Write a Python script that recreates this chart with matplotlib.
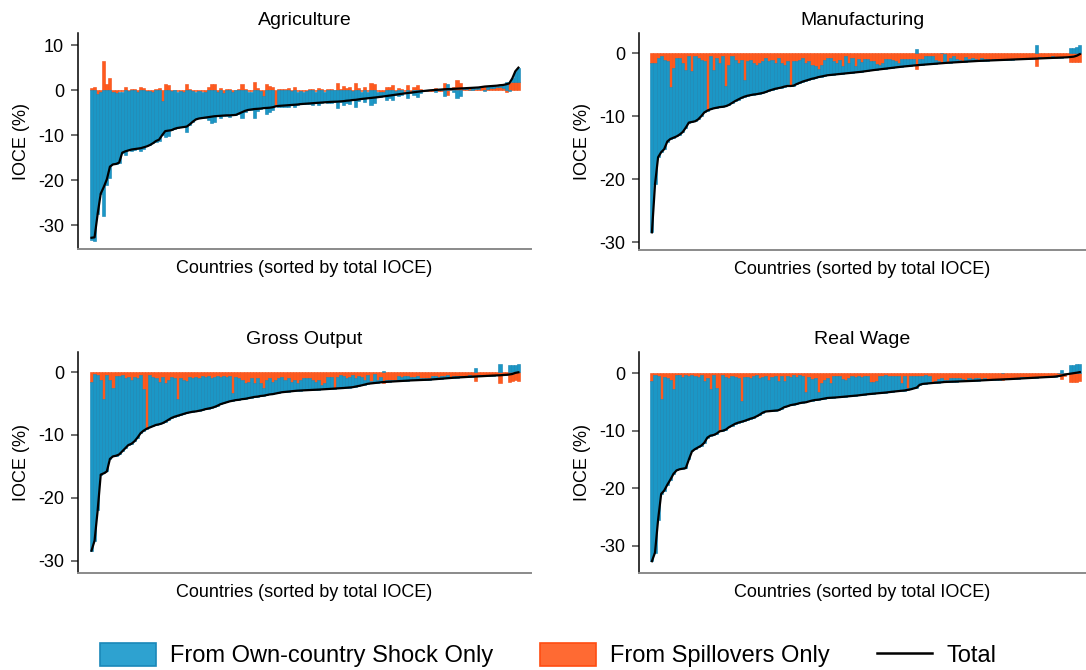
import numpy as np
import matplotlib
matplotlib.use("Agg")
import matplotlib.pyplot as plt
from matplotlib.patches import Patch
from matplotlib.lines import Line2D

plt.rcParams["font.family"] = ["Liberation Sans", "DejaVu Sans"]
plt.rcParams["axes.unicode_minus"] = False

# IOCE by country (sorted by total), in percent
agri_total = [
    -32.8, -32.7, -27.5, -23.0, -21.5, -19.8, -17.0, -16.5, -16.4, -16.1,
    -13.9, -13.6, -13.4, -13.2, -13.1, -13.0, -12.9, -12.7, -12.5, -12.2,
    -11.8, -11.3, -11.0, -10.0, -9.1, -9.0, -8.9, -8.6, -8.4, -8.3,
    -8.2, -8.1, -7.6, -7.0, -6.5, -6.3, -6.2, -6.1, -6.0, -5.9,
    -5.8, -5.75, -5.7, -5.65, -5.6, -5.6, -5.55, -5.5, -5.2, -4.9,
    -4.6, -4.4, -4.3, -4.2, -4.15, -4.1, -4.0, -3.95, -3.9, -3.8,
    -3.6, -3.5, -3.45, -3.4, -3.35, -3.3, -3.25, -3.2, -3.1, -3.05,
    -3.0, -2.95, -2.9, -2.85, -2.8, -2.75, -2.7, -2.65, -2.6, -2.58,
    -2.55, -2.5, -2.45, -2.35, -2.3, -2.2, -2.15, -2.05, -1.95, -1.88,
    -1.8, -1.72, -1.65, -1.58, -1.5, -1.4, -1.3, -1.2, -1.1, -1.0,
    -0.9, -0.8, -0.72, -0.63, -0.55, -0.45, -0.37, -0.28, -0.2, -0.12,
    -0.05, 0.0, 0.05, 0.1, 0.15, 0.2, 0.22, 0.26, 0.3, 0.35,
    0.4, 0.43, 0.46, 0.5, 0.52, 0.55, 0.6, 0.7, 0.8, 0.85,
    0.9, 0.95, 1.0, 1.1, 1.15, 1.3, 1.5, 2.6, 4.2, 5.0,
]
agri_spill = [
    0.5, 0.8, -0.8, -0.5, 6.5, 1.3, 2.6, -0.5, -0.6, -0.3,
    -0.3, 0.8, -0.2, 0.3, 0.2, -0.4, 0.6, 0.4, -0.2, -0.2,
    -0.4, 0.2, 0.4, -2.5, 1.3, 1.2, -0.2, 0.1, -0.3, -0.2,
    -0.5, 1.3, 0.2, -0.1, -0.3, -0.2, -0.3, -0.4, 0.7, 1.3,
    1.3, -0.4, 0.4, -0.6, 0.2, 0.3, -0.4, 0.1, 0.2, 1.3,
    0.3, -0.3, -0.3, 1.9, 0.4, -0.1, -1.4, 1.3, 0.9, 0.6,
    -3.3, 0.2, 0.2, 0.3, 0.5, -0.1, 0.6, -0.3, -0.2, -0.3,
    -0.1, 0.2, 0.3, -0.3, 0.4, 0.2, -0.3, 0.3, 0.2, 0.1,
    1.5, 0.2, 0.9, 0.5, 0.7, -0.2, 1.5, 0.4, -0.3, 0.8,
    -0.3, 1.5, 1.3, -0.3, -0.5, -0.4, 0.8, 0.6, 1.2, -0.2,
    0.4, 0.2, -0.3, 1.2, -0.3, 0.6, 1.2, 0.3, -0.2, -0.1,
    -0.1, -0.1, 0.4, -0.1, -0.1, 1.6, -1.1, 0.3, 0.8, 2.2,
    1.6, 0.3, 0.2, 0.5, 0.1, 0.2, 0.3, 0.6, 0.9, 0.3,
    0.4, 0.4, 0.7, 0.6, 0.5, -0.5, 1.6, 1.8, 1.8, 1.8,
]

manu_total = [
    -28.4, -20.8, -16.5, -15.7, -15.2, -14.0, -13.6, -13.4, -13.2, -12.9,
    -12.5, -11.8, -11.0, -10.9, -10.8, -10.5, -10.0, -9.4, -9.1, -8.9,
    -8.75, -8.65, -8.55, -8.5, -8.4, -8.2, -7.9, -7.6, -7.35, -7.1,
    -6.9, -6.75, -6.65, -6.55, -6.5, -6.4, -6.3, -6.15, -5.95, -5.8,
    -5.65, -5.55, -5.45, -5.3, -5.2, -5.2, -5.15, -4.9, -4.7, -4.5,
    -4.35, -4.2, -4.05, -3.95, -3.8, -3.7, -3.6, -3.5, -3.45, -3.4,
    -3.35, -3.3, -3.25, -3.2, -3.15, -3.1, -3.05, -3.0, -2.95, -2.88,
    -2.8, -2.74, -2.68, -2.62, -2.56, -2.5, -2.44, -2.38, -2.32, -2.26,
    -2.2, -2.15, -2.1, -2.05, -2.0, -1.95, -1.91, -1.87, -1.83, -1.79,
    -1.75, -1.71, -1.67, -1.63, -1.59, -1.55, -1.52, -1.49, -1.46, -1.43,
    -1.4, -1.37, -1.34, -1.31, -1.28, -1.25, -1.23, -1.21, -1.19, -1.17,
    -1.15, -1.13, -1.11, -1.09, -1.07, -1.05, -1.03, -1.01, -0.99, -0.97,
    -0.95, -0.93, -0.91, -0.89, -0.87, -0.85, -0.83, -0.81, -0.79, -0.77,
    -0.75, -0.73, -0.71, -0.69, -0.67, -0.65, -0.6, -0.55, -0.4, -0.15,
]
manu_spill = [
    -1.6, -1.6, -0.8, -0.5, -1.1, -1.2, -5.3, -2.4, -0.8, -0.8,
    -1.6, -2.6, -0.4, -2.75, -0.5, -0.8, -1.1, -1.3, -9.0, -0.5,
    -2.6, -0.8, -1.6, -0.5, -5.2, -1.85, -0.4, -1.1, -1.6, -1.1,
    -4.2, -1.3, -1.1, -1.6, -1.85, -1.6, -1.3, -0.8, -1.3, -1.1,
    -1.6, -0.8, -1.6, -1.85, -1.3, -5.0, -1.2, -1.3, -1.1, -0.8,
    -1.6, -1.3, -1.85, -2.1, -2.5, -1.85, -1.1, -0.8, -0.8, -1.3,
    -1.6, -1.1, -2.1, -0.4, -1.6, -0.8, -2.1, -1.0, -1.4, -0.9,
    -0.9, -1.2, -1.3, -1.7, -1.8, -1.6, -0.9, -0.95, -1.1, -1.3,
    -1.6, -0.9, -0.85, -0.95, -0.9, -1.0, -2.5, -0.95, -0.9, -0.5,
    -0.4, -0.5, -1.1, -1.2, -1.6, -0.2, -1.4, -0.8, -0.5, -1.0,
    -1.1, -1.3, -0.6, -1.0, -0.8, -1.0, -1.1, -0.8, -0.9, -1.0,
    -1.1, -1.0, -1.0, -1.05, -1.0, -1.0, -1.0, -0.95, -0.9, -0.95,
    -0.9, -0.9, -0.85, -0.85, -0.8, -2.1, -0.6, -0.75, -0.7, -0.75,
    -0.5, -0.7, -0.6, -0.65, -0.6, -0.6, -1.4, -1.4, -1.4, -1.4,
]

gross_total = [
    -28.4, -26.8, -22.0, -16.3, -16.1, -15.8, -13.8, -13.4, -13.3, -13.1,
    -12.6, -12.1, -11.6, -11.4, -11.0, -10.4, -9.7, -9.3, -9.0, -8.8,
    -8.6, -8.4, -8.3, -8.15, -7.9, -7.6, -7.3, -7.1, -6.95, -6.8,
    -6.65, -6.5, -6.4, -6.3, -6.25, -6.15, -6.05, -5.9, -5.8, -5.7,
    -5.55, -5.35, -5.1, -4.95, -4.8, -4.65, -4.55, -4.45, -4.4, -4.3,
    -4.25, -4.15, -4.05, -3.95, -3.9, -3.8, -3.75, -3.65, -3.55, -3.5,
    -3.4, -3.3, -3.2, -3.15, -3.1, -3.05, -3.0, -2.95, -2.93, -2.9,
    -2.87, -2.85, -2.83, -2.8, -2.78, -2.75, -2.72, -2.69, -2.66, -2.63,
    -2.6, -2.57, -2.53, -2.49, -2.45, -2.4, -2.3, -2.2, -2.1, -1.97,
    -1.85, -1.8, -1.74, -1.69, -1.63, -1.58, -1.55, -1.52, -1.48, -1.45,
    -1.42, -1.4, -1.37, -1.35, -1.32, -1.3, -1.28, -1.26, -1.24, -1.22,
    -1.2, -1.16, -1.12, -1.08, -1.04, -1.0, -0.97, -0.93, -0.89, -0.86,
    -0.82, -0.8, -0.77, -0.75, -0.72, -0.7, -0.68, -0.65, -0.62, -0.6,
    -0.57, -0.55, -0.52, -0.5, -0.47, -0.43, -0.38, -0.3, -0.12, -0.03,
]
gross_spill = [
    -1.5, -0.3, -0.5, -1.3, -4.3, -0.5, -1.3, -2.6, -0.6, -0.6,
    -0.5, -1.0, -0.7, -1.3, -0.7, -1.0, -0.5, -2.7, -8.9, -0.5,
    -0.7, -1.0, -1.5, -0.7, -1.8, -1.3, -0.7, -1.0, -4.2, -1.0,
    -1.3, -1.4, -0.7, -1.0, -0.85, -1.0, -0.6, -0.7, -0.6, -1.0,
    -0.7, -0.6, -0.85, -0.6, -0.7, -0.6, -3.4, -0.7, -1.0, -1.3,
    -1.8, -1.5, -1.0, -1.8, -1.0, -1.8, -2.6, -1.3, -1.0, -1.5,
    -1.3, -1.0, -0.85, -1.3, -1.0, -1.5, -1.3, -1.8, -1.3, -1.0,
    -1.0, -1.0, -1.2, -1.5, -1.3, -2.1, -1.7, -0.8, -0.8, -2.6,
    -0.8, -0.4, -0.6, -0.9, -0.7, -0.5, -1.0, -0.6, -0.8, -1.2,
    -0.5, -1.4, -0.3, -1.2, -0.8, -1.7, -1.3, -1.2, -1.25, -1.3,
    -0.6, -0.7, -0.6, -0.55, -0.7, -0.75, -0.6, -0.9, -1.0, -0.95,
    -1.0, -0.65, -0.6, -0.75, -0.55, -0.6, -0.5, -0.7, -0.65, -0.55,
    -0.6, -0.55, -0.6, -0.5, -0.55, -1.4, -0.5, -0.45, -0.55, -0.5,
    -0.45, -0.5, -0.4, -1.8, -0.45, -0.4, -1.5, -1.4, -1.3, -1.4,
]

wage_total = [
    -32.7, -31.2, -25.5, -21.0, -20.4, -19.4, -18.5, -17.5, -16.9, -16.7,
    -16.6, -16.5, -15.0, -13.6, -13.2, -12.9, -12.6, -12.1, -11.2, -10.85,
    -10.75, -10.5, -10.1, -10.0, -9.8, -9.4, -9.1, -8.8, -8.6, -8.45,
    -8.3, -8.1, -7.9, -7.75, -7.5, -7.2, -6.85, -6.65, -6.6, -6.55,
    -6.5, -6.45, -6.2, -5.9, -5.75, -5.55, -5.45, -5.35, -5.2, -5.1,
    -5.05, -4.9, -4.75, -4.65, -4.6, -4.5, -4.4, -4.3, -4.27, -4.23,
    -4.2, -4.15, -4.1, -4.05, -4.0, -3.95, -3.9, -3.85, -3.78, -3.72,
    -3.65, -3.6, -3.55, -3.5, -3.45, -3.4, -3.35, -3.28, -3.22, -3.16,
    -3.1, -3.05, -3.0, -2.9, -2.8, -2.65, -2.5, -2.0, -1.85, -1.8,
    -1.75, -1.7, -1.65, -1.62, -1.58, -1.52, -1.5, -1.48, -1.47, -1.45,
    -1.43, -1.41, -1.39, -1.36, -1.33, -1.3, -1.27, -1.24, -1.21, -1.18,
    -1.15, -1.13, -1.11, -1.09, -1.07, -1.05, -1.02, -0.99, -0.96, -0.93,
    -0.9, -0.87, -0.84, -0.81, -0.78, -0.75, -0.72, -0.7, -0.67, -0.65,
    -0.62, -0.58, -0.5, -0.4, -0.28, -0.15, -0.07, 0.0, 0.1, 0.2,
]
wage_spill = [
    -1.3, -0.3, -0.5, -4.4, -0.6, -0.9, -1.2, -2.8, -0.3, -0.3,
    -0.6, -0.3, -0.5, -0.3, -0.5, -0.6, -0.3, -1.3, -0.9, -2.8,
    -0.3, -2.6, -10.0, -0.3, -0.6, -0.9, -0.5, -0.6, -0.9, -4.9,
    -0.6, -0.7, -0.9, -0.5, -0.3, -0.9, -0.6, -0.5, -1.2, -0.6,
    -0.5, -1.3, -0.5, -1.4, -0.5, -0.6, -0.3, -0.6, -0.3, -0.5,
    -3.2, -0.6, -1.0, -0.9, -3.2, -1.7, -1.2, -0.9, -1.7, -0.4,
    -0.4, -0.5, -1.0, -1.1, -0.9, -0.5, -0.6, -0.4, -0.6, -0.5,
    -0.5, -1.5, -1.6, -1.4, -0.5, -0.4, -0.3, -0.5, -0.4, -0.5,
    -0.4, -1.7, -0.5, -2.6, -0.5, -0.4, -0.5, -0.4, -0.4, -0.3,
    -0.5, -1.5, -1.4, -1.0, -0.9, -1.2, -1.1, -0.9, -0.8, -0.9,
    -0.8, -1.0, -1.2, -0.9, -1.0, -0.85, -0.9, -1.0, -0.9, -1.0,
    -1.0, -0.95, -1.0, -0.95, -1.2, -1.0, -0.95, -0.9, -0.85, -0.85,
    -0.7, -0.6, -0.8, -0.75, -0.7, -0.7, -0.7, -0.65, -0.6, -0.6,
    -0.6, -0.55, -0.5, -1.05, -0.4, -0.2, -1.45, -1.45, -1.45, -1.4,
]

BLUE = "#1b97c6"
BLUE_EDGE = "#1583b2"
ORANGE = "#ff5a1e"
ORANGE_EDGE = "#f24e16"

# (title, total, spill, axes rect in px [left, top, right, bottom], ylim, yticks, xlim)
panels = [
    ("Agriculture", agri_total, agri_spill, (78, 33, 531, 249), (-35.3, 12.7),
     [10, 0, -10, -20, -30], (-4.4, 143.1)),
    ("Manufacturing", manu_total, manu_spill, (639, 33, 1086, 250), (-31.2, 3.2),
     [0, -10, -20, -30], (-4.2, 141.0)),
    ("Gross Output", gross_total, gross_spill, (78, 352, 531, 573), (-31.95, 3.2),
     [0, -10, -20, -30], (-4.4, 143.1)),
    ("Real Wage", wage_total, wage_spill, (639, 352, 1086, 573), (-34.75, 3.7),
     [0, -10, -20, -30], (-4.2, 141.0)),
]

W, H = 1086, 670
fig = plt.figure(figsize=(W / 100, H / 100), dpi=100)

for title, total, spill, (l, t, r, b), ylim, yticks, xlim in panels:
    ax = fig.add_axes([l / W, 1 - b / H, (r - l) / W, (b - t) / H])
    total = np.array(total)
    spill = np.array(spill)
    own = total - spill
    x = np.arange(len(total))

    # spillovers sit next to zero, own-country part stacked beyond them when same sign
    own_base = np.where(np.sign(own) == np.sign(spill), spill, 0.0)
    ax.bar(x, spill, width=1.0, color=ORANGE, edgecolor=ORANGE_EDGE, linewidth=0.4)
    ax.bar(x, own, bottom=own_base, width=1.0, color=BLUE, edgecolor=BLUE_EDGE, linewidth=0.4)
    ax.plot(x, total, color="black", lw=1.6, solid_joinstyle="round")

    ax.set_xlim(*xlim)
    ax.set_ylim(*ylim)
    ax.set_yticks(yticks)
    ax.set_yticklabels([str(v) for v in yticks])
    ax.set_xticks([])
    for side in ["top", "right"]:
        ax.spines[side].set_visible(False)
    ax.spines["left"].set_color("black")
    ax.spines["left"].set_linewidth(1.1)
    ax.spines["bottom"].set_color("#8a8a8a")
    ax.spines["bottom"].set_linewidth(1.4)
    ax.tick_params(axis="y", length=5, width=1.2, color="#555555", pad=5, labelsize=13)
    ax.set_title(title, fontsize=14, pad=6)
    ax.set_xlabel("Countries (sorted by total IOCE)", fontsize=13, labelpad=8)
    ax.set_ylabel("IOCE (%)", fontsize=13, labelpad=6)

handles = [
    Patch(facecolor="#2ea2d0", edgecolor="#1a88b9", linewidth=1.2),
    Patch(facecolor="#ff6a33", edgecolor="#ff4d12", linewidth=1.2),
    Line2D([0], [0], color="black", lw=1.8),
]
labels = ["From Own-country Shock Only", "From Spillovers Only", "Total"]
fig.legend(handles, labels, loc="center", bbox_to_anchor=(0.505, 0.022), ncol=3,
           frameon=False, fontsize=17, handlelength=2.35, handleheight=1.1,
           handletextpad=0.6, columnspacing=2.0)

fig.savefig("out.png", dpi=100)
